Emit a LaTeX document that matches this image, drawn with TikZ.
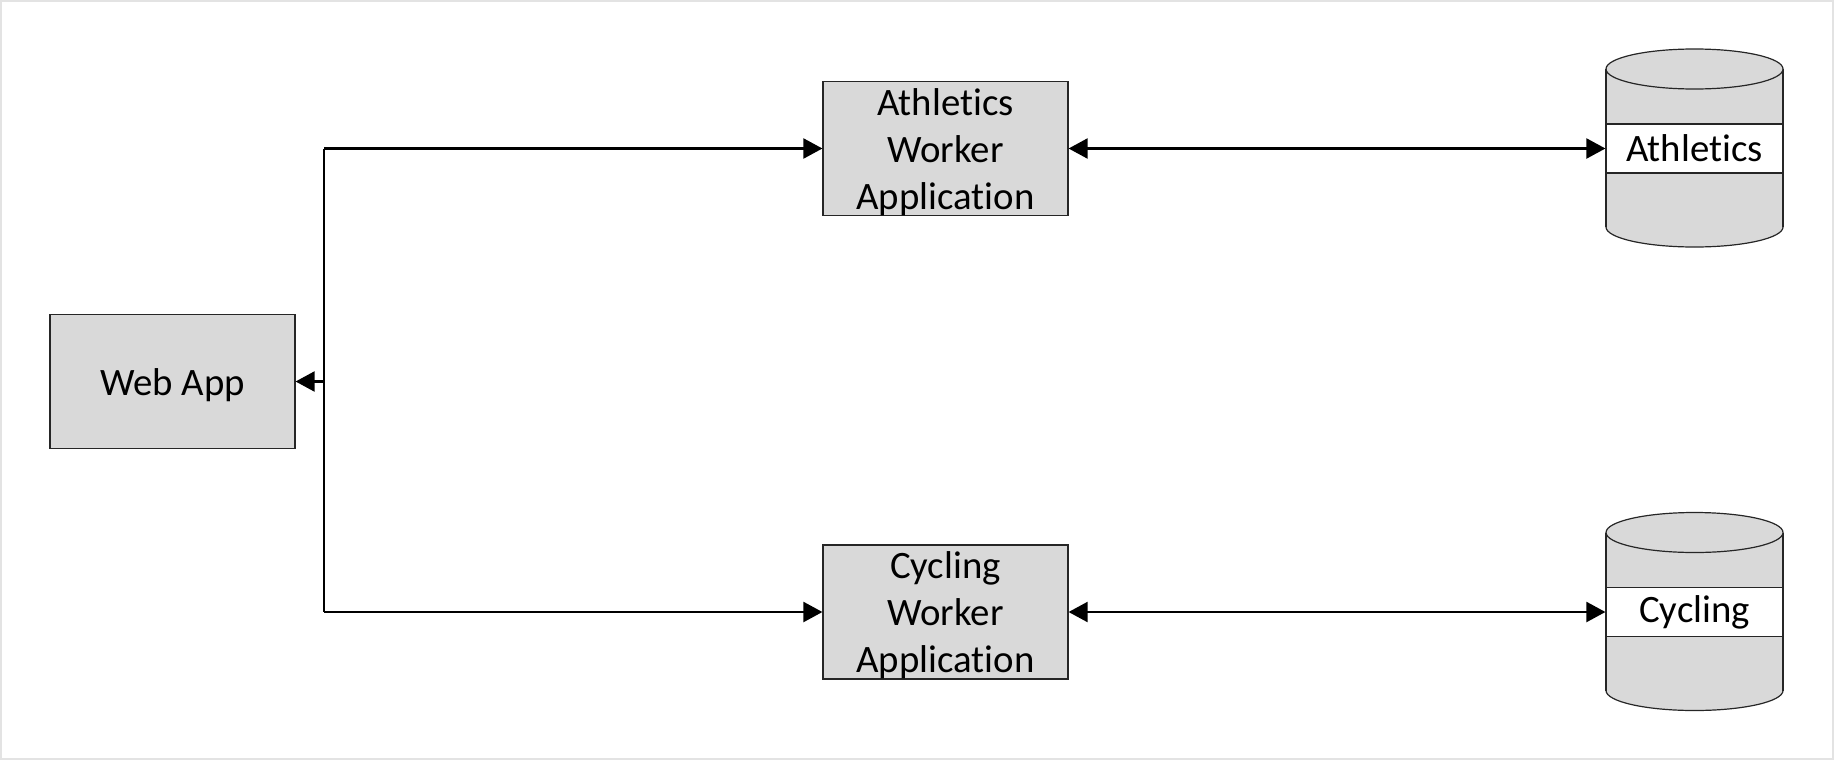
\documentclass[tikz,border=0pt]{standalone}
\usepackage{fontspec}
\setmainfont{Carlito}[Ligatures={NoCommon}]
\usetikzlibrary{arrows.meta}
\definecolor{boxgrey}{HTML}{D9D9D9}
\definecolor{framegrey}{HTML}{E3E3E3}
\tikzset{
  px/.style={x=0.5pt,y=-0.5pt},
  procbox/.style={draw=black!85,line width=0.6pt,fill=boxgrey,minimum width=122.5pt,minimum height=67pt,inner sep=0pt},
  boxtext/.style={align=center,inner sep=0pt,yshift=-1.6pt,font=\fontsize{19.4}{23.5}\selectfont},
  dbband/.style={draw=black!85,line width=0.6pt,fill=white,minimum width=88.5pt,minimum height=24.5pt,inner sep=0pt,font=\fontsize{19.4}{23.5}\selectfont},
  conn/.style={line width=1.1pt,-{Triangle[length=9.5pt,width=10pt]}},
  biconn/.style={line width=1.1pt,{Triangle[length=9.5pt,width=10pt]}-{Triangle[length=9.5pt,width=10pt]}},
  cylbody/.style={draw=black!85,line width=0.6pt,fill=boxgrey}
}
\begin{document}
\begin{tikzpicture}[px]
\useasboundingbox (0,0) rectangle (1834,760);
\draw[framegrey,line width=1pt] (1,1) rectangle (1833,759);
% nodes
\node[procbox] (web) at (172.5,381.5) {};
\node[boxtext] (webtxt) at (web.center) {Web App};
\node[procbox] (ath) at (945.5,148.5) {};
\node[boxtext] (athtxt) at (ath.center) {Athletics\\Worker\\Application};
\node[procbox] (cyc) at (945.5,612) {};
\node[boxtext] (cyctxt) at (cyc.center) {Cycling\\Worker\\Application};
% cylinders
\foreach \cy/\nm/\txt in {0/athdb/Athletics, 463.5/cycdb/Cycling}{
  \begin{scope}[yshift=-\cy*0.5pt]
    \fill[boxgrey] (1606,69) rectangle (1783,227);
    \fill[boxgrey] (1694.5,227) ellipse [x radius=88.5, y radius=20];
    \draw[black!85,line width=0.6pt] (1606,227) arc[start angle=180,end angle=0,x radius=88.5,y radius=20];
    \draw[black!85,line width=0.6pt] (1606,69) -- (1606,227) (1783,69) -- (1783,227);
    \draw[cylbody] (1694.5,69) ellipse [x radius=88.5, y radius=20];
    \node[dbband] (\nm) at (1694.5,148.5) {\txt};
  \end{scope}
}
% connectors
\coordinate (tA) at (324,148.5);
\coordinate (tC) at (324,612);
\coordinate (tW) at (324,381.5);
\draw[line width=1.1pt] (tA) -- (tC);
\draw[conn] (tA) -- (ath.west);
\draw[conn] (tC) -- (cyc.west);
\draw[conn] (tW) -- (web.east);
\draw[biconn] (ath.east) -- (athdb.west);
\draw[biconn] (cyc.east) -- (cycdb.west);
\end{tikzpicture}
\end{document}
